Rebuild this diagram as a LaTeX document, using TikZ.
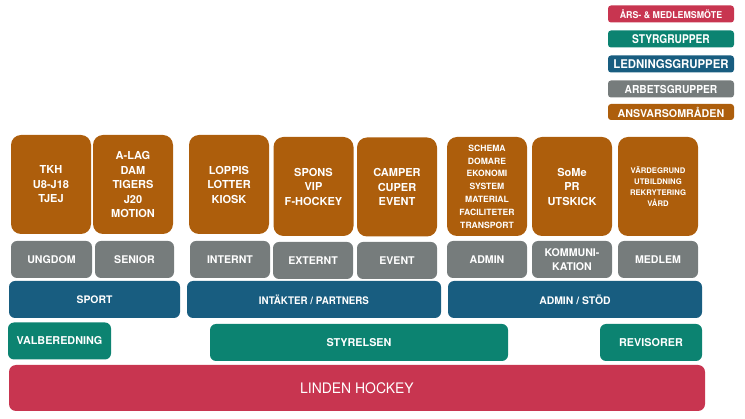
\documentclass[tikz,border=0pt]{standalone}
\usepackage{fontspec}
\setmainfont{TeX Gyre Heros}
\newfontfamily\condfont[FakeStretch=0.96]{TeX Gyre Heros}
\definecolor{cred}{RGB}{200,53,80}
\definecolor{cteal}{RGB}{12,131,113}
\definecolor{cblue}{RGB}{24,93,128}
\definecolor{cgrey}{RGB}{118,124,124}
\definecolor{corange}{RGB}{173,94,12}
\begin{document}
\begin{tikzpicture}[x=1pt,y=-1pt,
  basebox/.style={inner sep=0pt, align=center, text=white},
  legbox/.style={basebox, rounded corners=3pt, minimum width=126pt, minimum height=17pt},
  orbox/.style={basebox, fill=corange, rounded corners=10pt, minimum width=80pt, minimum height=99pt, font=\bfseries\fontsize{11}{14.5}\selectfont},
  grbox/.style={basebox, fill=cgrey, rounded corners=6pt, minimum width=80pt, minimum height=37pt, font=\bfseries\fontsize{10.6}{13.5}\selectfont},
  lebox/.style={basebox, fill=cblue, rounded corners=6pt, minimum height=37pt, font=\bfseries\fontsize{10.4}{13}\selectfont},
  stbox/.style={basebox, fill=cteal, rounded corners=6pt, minimum height=37pt, font=\bfseries\fontsize{10.8}{13}\selectfont}]
\useasboundingbox (0,0) rectangle (745,419);
% legend
\node[legbox, fill=cred, font=\bfseries\fontsize{9.4}{11}\selectfont] (l1) at (671,14) {\scalebox{0.94}[1]{ÅRS- \& MEDLEMSMÖTE}};
\node[legbox, fill=cteal, font=\bfseries\fontsize{12}{13}\selectfont] (l2) at (671,39) {\scalebox{0.85}[1]{STYRGRUPPER}};
\node[legbox, fill=cblue, font=\bfseries\fontsize{12}{13}\selectfont] (l3) at (671,64) {\scalebox{0.95}[1]{LEDNINGSGRUPPER}};
\node[legbox, fill=cgrey, font=\bfseries\fontsize{11}{13}\selectfont] (l4) at (671,89) {\scalebox{0.93}[1]{ARBETSGRUPPER}};
\node[legbox, fill=corange, minimum height=16pt, font=\bfseries\fontsize{10.7}{12}\selectfont] (l5) at (671,112) {ANSVARSOMRÅDEN};
% orange
\node[orbox] (o1) at (51,184.5) {TKH\\U8-J18\\TJEJ};
\node[orbox] (o2) at (133,184.5) {A-LAG\\DAM\\TIGERS\\J20\\MOTION};
\node[orbox] (o3) at (229,184.5) {LOPPIS\\LOTTER\\KIOSK};
\node[orbox] (o4) at (313.5,186.5) {SPONS\\VIP\\F-HOCKEY};
\node[orbox] (o5) at (397,187) {CAMPER\\CUPER\\EVENT};
\node[orbox, font=\bfseries\fontsize{8.6}{12.8}\selectfont] (o6) at (487,186.5) {SCHEMA\\DOMARE\\EKONOMI\\SYSTEM\\MATERIAL\\FACILITETER\\TRANSPORT};
\node[orbox] (o7) at (572,186.5) {SoMe\\PR\\UTSKICK};
\node[orbox, font=\bfseries\fontsize{7.7}{10.8}\selectfont] (o8) at (658,186.5) {VÄRDEGRUND\\UTBILDNING\\REKRYTERING\\VÅRD};
% grey
\node[grbox, minimum width=81pt] (g1) at (51.5,259.5) {UNGDOM};
\node[grbox, minimum width=79pt] (g2) at (134.5,259.5) {SENIOR};
\node[grbox] (g3) at (230,259.5) {INTERNT};
\node[grbox] (g4) at (313,260.5) {EXTERNT};
\node[grbox] (g5) at (397,260.5) {EVENT};
\node[grbox] (g6) at (487,259.5) {ADMIN};
\node[grbox] (g7) at (572,259.5) {KOMMUNI-\\KATION};
\node[grbox] (g8) at (658,259.5) {MEDLEM};
% blue
\node[lebox, minimum width=171pt] (b1) at (94.5,299.5) {SPORT};
\node[lebox, minimum width=254pt] (b2) at (314,299.5) {\scalebox{0.94}[1]{INTÄKTER / PARTNERS}};
\node[lebox, minimum width=254pt] (b3) at (575,299.5) {ADMIN / STÖD};
% teal
\node[stbox, minimum width=103pt] (s1) at (59.5,341) {VALBEREDNING};
\node[stbox, minimum width=298pt] (s2) at (359,342.5) {STYRELSEN};
\node[stbox, minimum width=102pt] (s3) at (651,342.5) {REVISORER};
% red
\node[basebox, fill=cred, rounded corners=7pt, minimum width=696pt, minimum height=46pt, font=\condfont\fontsize{14.5}{18}\selectfont] (r1) at (357,388) {LINDEN HOCKEY};
\end{tikzpicture}
\end{document}
